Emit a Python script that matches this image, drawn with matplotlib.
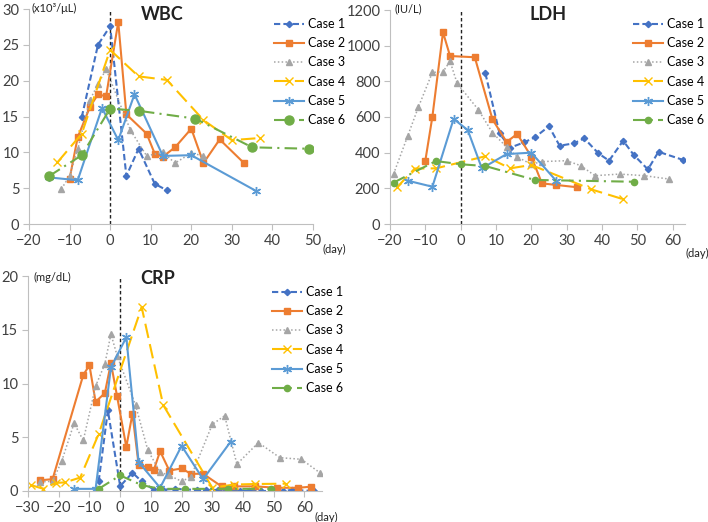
import matplotlib
matplotlib.use("Agg")
import matplotlib.pyplot as plt

# WBC (x10^3/uL)
wbc_d1 = [-7, -3, 0, 4, 7, 11, 14]
wbc_v1 = [14.9, 25.0, 27.6, 6.7, 10.5, 5.6, 4.7]
wbc_d2 = [-10, -8, -5, -3, -1, 2, 4, 9, 11, 13, 16, 20, 23, 27, 33]
wbc_v2 = [6.3, 12.1, 16.3, 18.1, 17.8, 28.2, 15.3, 12.6, 9.8, 9.4, 10.7, 13.3, 8.5, 11.8, 8.5]
wbc_d3 = [-12, -10, -8, -5, -3, -1, 5, 9, 13, 16, 20, 23]
wbc_v3 = [4.9, 6.7, 10.4, 17.3, 19.5, 21.6, 13.1, 9.5, 10.0, 8.5, 9.9, 9.5]
wbc_d4 = [-13, -7, 0, 7, 14, 23, 30, 37]
wbc_v4 = [8.6, 12.6, 24.3, 20.6, 20.1, 14.5, 11.7, 12.0]
wbc_d5 = [-15, -8, -2, 2, 6, 13, 20, 36]
wbc_v5 = [6.5, 6.1, 16.2, 11.7, 18.1, 9.5, 9.6, 4.6]
wbc_d6 = [-15, -7, 0, 7, 21, 35, 49]
wbc_v6 = [6.7, 9.6, 16.1, 15.8, 14.7, 10.7, 10.5]

# LDH (IU/L)
ldh_d1 = [7, 11, 14, 18, 21, 25, 28, 32, 35, 39, 42, 46, 49, 53, 56, 63]
ldh_v1 = [845, 508, 428, 458, 486, 548, 439, 452, 480, 396, 355, 467, 387, 306, 405, 359]
ldh_d2 = [-10, -8, -5, -3, 4, 9, 13, 16, 20, 23, 27, 33]
ldh_v2 = [355, 602, 1075, 942, 935, 587, 460, 505, 378, 228, 219, 206]
ldh_d3 = [-19, -15, -12, -8, -5, -3, -1, 5, 9, 13, 16, 20, 23, 30, 34, 38, 45, 52, 59]
ldh_v3 = [280, 493, 654, 850, 854, 912, 789, 641, 512, 432, 376, 335, 350, 355, 327, 271, 280, 271, 252]
ldh_d4 = [-18, -13, -7, 7, 14, 20, 37, 46]
ldh_v4 = [206, 311, 312, 380, 312, 331, 194, 139]
ldh_d5 = [-15, -8, -2, 2, 6, 13, 20, 27]
ldh_v5 = [243, 209, 589, 527, 312, 392, 400, 243]
ldh_d6 = [-19, -7, 0, 7, 21, 49]
ldh_v6 = [232, 353, 335, 325, 247, 237]

# CRP (mg/dL)
crp_d1 = [-7, -4, 0, 4, 7, 11, 14, 18, 21, 25, 28, 32, 35, 39, 42, 46, 49, 53, 56, 63]
crp_v1 = [0.9, 7.5, 0.45, 1.7, 0.9, 0.1, 0.12, 0.2, 0.15, 0.1, 0.1, 0.1, 0.1, 0.0, 0.0, 0.0, 0.0, 0.0, 0.1, 0.0]
crp_d2 = [-26, -22, -12, -10, -8, -5, -3, -1, 2, 4, 6, 9, 11, 13, 16, 20, 23, 27, 33, 37, 44, 51, 58, 62]
crp_v2 = [1.0, 1.1, 10.8, 11.7, 8.3, 9.1, 11.9, 8.8, 4.1, 7.2, 2.45, 2.2, 2.0, 3.7, 1.9, 2.1, 1.6, 1.6, 0.43, 0.43, 0.43, 0.3, 0.3, 0.4]
crp_d3 = [-26, -22, -19, -15, -12, -8, -5, -3, -1, 5, 9, 13, 16, 20, 23, 30, 34, 38, 45, 52, 59, 65]
crp_v3 = [0.85, 0.9, 2.8, 6.3, 4.7, 9.75, 11.8, 14.6, 12.6, 8.0, 3.8, 1.75, 1.45, 0.9, 1.3, 6.2, 7.0, 2.5, 4.5, 3.1, 2.95, 1.7]
crp_d4 = [-29, -25, -21, -18, -13, -7, 7, 14, 30, 37, 44, 54]
crp_v4 = [0.55, 0.2, 0.75, 0.8, 1.25, 5.3, 17.1, 8.0, 0.3, 0.6, 0.65, 0.68]
crp_d5 = [-15, -8, -3, 2, 6, 13, 20, 27, 36]
crp_v5 = [0.2, 0.2, 11.5, 14.3, 2.7, 0.3, 4.2, 1.1, 4.6]
crp_d6 = [-7, 0, 7, 13, 21, 35, 49]
crp_v6 = [0.2, 1.45, 0.55, 0.2, 0.2, 0.2, 0.2]

labels = ["Case 1", "Case 2", "Case 3", "Case 4", "Case 5", "Case 6"]
colors = ["#4472C4", "#ED7D31", "#A5A5A5", "#FFC000", "#5B9BD5", "#70AD47"]
dashes = [(3, 1.5), None, (1, 1.5), (7, 3), None, (6, 2.5, 1, 2.5)]
markers = ["D", "s", "^", "x", (6, 2, 0), "o"]
msizes = [3.2, 5, 4, 5.5, 6.5, 4.5]
lws = [1.5, 1.5, 1.1, 1.5, 1.5, 1.5]

plt.rcParams["font.family"] = ["Lato", "DejaVu Sans"]

W, H = 708, 522
fig = plt.figure(figsize=(W / 100, H / 100), dpi=100)


def px_axes(x0, x1, ytop, ybot):
    return fig.add_axes([x0 / W, 1 - ybot / H, (x1 - x0) / W, (ybot - ytop) / H])


def draw(ax, data, xlim, xticks, ylim, yticks, circ=4.5):
    for i, (d, v) in enumerate(data):
        ms = circ if i == 5 else msizes[i]
        line, = ax.plot(d, v, color=colors[i], lw=lws[i], marker=markers[i],
                        ms=ms, mew=1.0, label=labels[i])
        if dashes[i] is not None:
            line.set_dashes(dashes[i])
    ax.axvline(0, color="#222222", lw=1.0, ls=(0, (2.5, 1.8)), zorder=0)
    ax.set_xlim(*xlim)
    ax.set_ylim(*ylim)
    ax.set_xticks(xticks)
    ax.set_yticks(yticks)
    for s in ["top", "right"]:
        ax.spines[s].set_visible(False)
    for s in ["left", "bottom"]:
        ax.spines[s].set_color("#BFBFBF")
    ax.tick_params(colors="#BFBFBF", labelcolor="#404040", labelsize=10.5, length=4)
    ax.tick_params(axis="y", pad=3)
    ax.tick_params(axis="x", pad=3)


def legend(ax, x, y):
    ax.legend(loc="upper left", bbox_to_anchor=(x / W, 1 - y / H), bbox_transform=fig.transFigure,
              frameon=False, fontsize=9, handlelength=2.4, labelspacing=0.58,
              handletextpad=0.3, borderpad=0, borderaxespad=0)


# WBC
ax1 = px_axes(29, 313, 9, 224)
draw(ax1, [(wbc_d1, wbc_v1), (wbc_d2, wbc_v2), (wbc_d3, wbc_v3),
           (wbc_d4, wbc_v4), (wbc_d5, wbc_v5), (wbc_d6, wbc_v6)],
     (-20, 50), range(-20, 51, 10), (0, 30), range(0, 31, 5), circ=6.5)
legend(ax1, 274, 18)

# LDH
ax2 = px_axes(390, 685, 10, 224)
draw(ax2, [(ldh_d1, ldh_v1), (ldh_d2, ldh_v2), (ldh_d3, ldh_v3),
           (ldh_d4, ldh_v4), (ldh_d5, ldh_v5), (ldh_d6, ldh_v6)],
     (-20, 63.5), range(-20, 61, 10), (0, 1200), range(0, 1201, 200))
legend(ax2, 633, 18)

# CRP
ax3 = px_axes(28, 322, 276, 491)
draw(ax3, [(crp_d1, crp_v1), (crp_d2, crp_v2), (crp_d3, crp_v3),
           (crp_d4, crp_v4), (crp_d5, crp_v5), (crp_d6, crp_v6)],
     (-30, 65.7), range(-30, 61, 10), (0, 20), range(0, 21, 5))
legend(ax3, 272, 286)


def ftext(x, y, s, **kw):
    fig.text(x / W, 1 - y / H, s, ha="center", va="center", color="#222222", **kw)


ftext(162, 14, "WBC", fontsize=13, fontweight="bold")
ftext(548, 14, "LDH", fontsize=13, fontweight="bold")
ftext(158, 278, "CRP", fontsize=13, fontweight="bold")
ftext(54, 8, "(x10\u00b3/\u03bcL)", fontsize=8)
ftext(408, 9, "(IU/L)", fontsize=8)
ftext(52, 277, "(mg/dL)", fontsize=8)
ftext(334, 249, "(day)", fontsize=8)
ftext(697, 253, "(day)", fontsize=8)
ftext(326, 517, "(day)", fontsize=8)

fig.savefig("out.png", dpi=100)
